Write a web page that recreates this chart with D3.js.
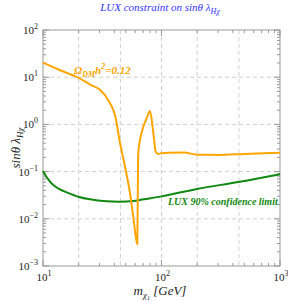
<!DOCTYPE html>
<html>
<head>
<meta charset="utf-8">
<script src="https://cdn.jsdelivr.net/npm/d3@7"></script>
<style>
  body { margin: 0; background: #fff; }
  text { font-family: "Liberation Serif", "DejaVu Serif", serif; }
</style>
</head>
<body>
<svg width="288" height="301"></svg>
<script>
// relic density curve (Omega h^2 = 0.12)
const relicMass = [10, 13, 16, 19.2, 25, 30.3, 36.7, 40.5, 44.7, 49.2, 54.2, 57.8, 62.5, 63.0, 63.7, 65.9, 70.2, 75, 80, 85.3, 89.4, 94, 100, 115, 155, 200, 300, 500, 1000];
const relicVal = [20.3, 15.2, 12.2, 10.2, 7.0, 5.4, 2.84, 1.58, 0.40, 0.127, 0.035, 0.011, 0.0029, 0.025, 0.25, 0.47, 0.89, 1.35, 1.92, 0.66, 0.264, 0.236, 0.244, 0.25, 0.253, 0.228, 0.226, 0.236, 0.25];

// LUX 90% limit
const luxMass = [10, 10.75, 12.2, 13.9, 15.85, 19.85, 24.9, 34.5, 44.7, 57.4, 71, 98, 200, 459, 1000];
const luxVal = [0.103, 0.0757, 0.052, 0.0421, 0.0364, 0.0294, 0.0259, 0.0235, 0.023, 0.0238, 0.026, 0.0295, 0.043, 0.061, 0.088];

const xTicks = [10, 100, 1000];
const yTicks = [1e-3, 1e-2, 1e-1, 1, 10, 100];
const xGrid = [20, 45, 100, 200, 450];

const svg = d3.select("svg");
const mLeft = 43, mRight = 280, mTop = 30, mBottom = 266;

const x = d3.scaleLog().domain([10, 1000]).range([mLeft, mRight]);
const y = d3.scaleLog().domain([1e-3, 100]).range([mBottom, mTop]);

// grid
svg.selectAll(".vg").data(xGrid).enter().append("line")
  .attr("x1", d => x(d)).attr("x2", d => x(d))
  .attr("y1", mTop).attr("y2", mBottom)
  .attr("stroke", "#d0d0d0").attr("stroke-dasharray", "4,3");
svg.selectAll(".hg").data(yTicks.slice(1, -1)).enter().append("line")
  .attr("x1", mLeft).attr("x2", mRight)
  .attr("y1", d => y(d)).attr("y2", d => y(d))
  .attr("stroke", "#d0d0d0").attr("stroke-dasharray", "4,3");

// minor + major ticks
const minorX = [];
[10, 100].forEach(b => { for (let k = 2; k <= 9; k++) minorX.push(b * k); });
const minorY = [];
[1e-3, 1e-2, 1e-1, 1, 10].forEach(b => { for (let k = 2; k <= 9; k++) minorY.push(b * k); });

const tickCol = "#999";
function xTickLines(vals, len) {
  vals.forEach(v => {
    svg.append("line").attr("x1", x(v)).attr("x2", x(v)).attr("y1", mBottom).attr("y2", mBottom - len).attr("stroke", tickCol);
    svg.append("line").attr("x1", x(v)).attr("x2", x(v)).attr("y1", mTop).attr("y2", mTop + len).attr("stroke", tickCol);
  });
}
function yTickLines(vals, len) {
  vals.forEach(v => {
    svg.append("line").attr("y1", y(v)).attr("y2", y(v)).attr("x1", mLeft).attr("x2", mLeft + len).attr("stroke", tickCol);
    svg.append("line").attr("y1", y(v)).attr("y2", y(v)).attr("x1", mRight).attr("x2", mRight - len).attr("stroke", tickCol);
  });
}
xTickLines(minorX, 3);
xTickLines(xTicks, 6);
yTickLines(minorY, 3);
yTickLines(yTicks, 6);

svg.append("rect")
  .attr("x", mLeft).attr("y", mTop)
  .attr("width", mRight - mLeft).attr("height", mBottom - mTop)
  .attr("fill", "none").attr("stroke", tickCol);

// tick labels
function powLabel(sel, v) {
  const e = Math.round(Math.log10(v));
  sel.append("tspan").text("10");
  sel.append("tspan").attr("dy", -5).attr("font-size", 8).text(e < 0 ? "\u2212" + (-e) : e);
}
yTicks.forEach(v => {
  const t = svg.append("text").attr("x", 38).attr("y", y(v) + 4)
    .attr("text-anchor", "end").attr("font-size", 11).attr("fill", "#222");
  powLabel(t, v);
});
xTicks.forEach(v => {
  const t = svg.append("text").attr("x", x(v) + 1).attr("y", 281)
    .attr("text-anchor", "middle").attr("font-size", 11).attr("fill", "#222");
  powLabel(t, v);
});

// curves
const relicLine = d3.line()
  .x(d => x(d[0])).y(d => y(d[1]))
  .curve(d3.curveMonotoneX);
const luxLine = d3.line()
  .x(d => x(d[0])).y(d => y(d[1]))
  .curve(d3.curveCatmullRom.alpha(0.5));

svg.append("path")
  .datum(luxMass.map((m, i) => [m, luxVal[i]]))
  .attr("d", luxLine)
  .attr("fill", "none").attr("stroke", "#118811").attr("stroke-width", 2);

svg.append("path")
  .datum(relicMass.map((m, i) => [m, relicVal[i]]))
  .attr("d", relicLine)
  .attr("fill", "none").attr("stroke", "#ffa500").attr("stroke-width", 2);

// annotations
const om = svg.append("text").attr("x", 74).attr("y", 74)
  .attr("font-size", 11).attr("font-weight", "bold").attr("font-style", "italic").attr("fill", "#ffa500");
om.append("tspan").text("\u03A9");
om.append("tspan").attr("dy", 3).attr("font-size", 8).text("DM");
om.append("tspan").attr("dy", -3).text("h");
om.append("tspan").attr("dy", -5).attr("font-size", 8).text("2");
om.append("tspan").attr("dy", 5).text("=0.12");

svg.append("text").attr("x", 168).attr("y", 205)
  .attr("font-size", 10).attr("font-weight", "bold").attr("font-style", "italic").attr("fill", "#118811")
  .text("LUX 90% confidence limit");

// title
const title = svg.append("text").attr("x", 160).attr("y", 11)
  .attr("text-anchor", "middle").attr("font-size", 11).attr("font-style", "italic").attr("fill", "#3535ff");
title.append("tspan").text("LUX constraint on sin\u03B8 \u03BB");
title.append("tspan").attr("dy", 3).attr("font-size", 8).text("H\u03C7");

// axis labels
const yl = svg.append("text").attr("transform", "translate(20,148) rotate(-90)")
  .attr("text-anchor", "middle").attr("font-size", 13).attr("font-style", "italic").attr("fill", "#222");
yl.append("tspan").text("sin\u03B8 \u03BB");
yl.append("tspan").attr("dy", 3).attr("font-size", 9).text("H\u03C7");

const xl = svg.append("text").attr("x", 160).attr("y", 295)
  .attr("text-anchor", "middle").attr("font-size", 13).attr("font-style", "italic").attr("fill", "#222");
xl.append("tspan").text("m");
xl.append("tspan").attr("dy", 3).attr("font-size", 9).text("\u03C7");
xl.append("tspan").attr("dy", 2).attr("font-size", 6).text("1");
xl.append("tspan").attr("dy", -5).text(" [GeV]");
</script>
</body>
</html>
